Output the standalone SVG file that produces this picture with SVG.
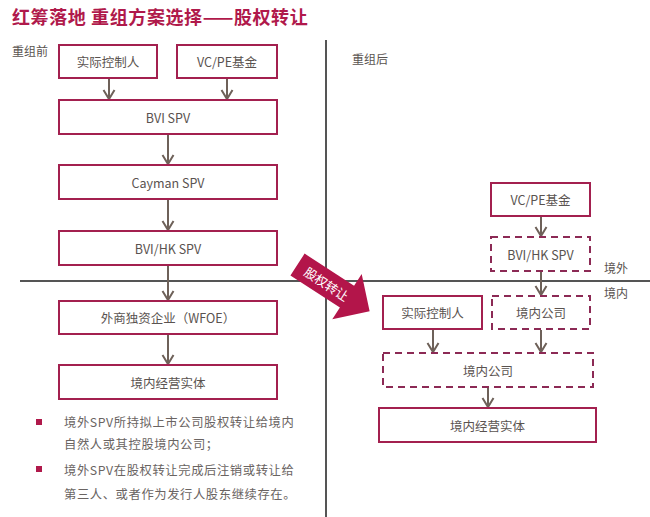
<svg xmlns="http://www.w3.org/2000/svg" width="650" height="517" viewBox="0 0 650 517">
<style>
  text { font-family: "Noto Sans CJK SC", "Noto Sans", "Liberation Sans", sans-serif; }
  .box { fill: #ffffff; stroke: #a3204f; stroke-width: 2; }
  .dbox { fill: #ffffff; stroke: #8c2a55; stroke-width: 2; stroke-dasharray: 7 5; }
  .lbl { font-size: 12.5px; fill: #5a5350; text-anchor: middle; dominant-baseline: central; }
  .side { font-size: 12px; fill: #5a5350; }
  .note { font-size: 12.3px; fill: #6a6462; letter-spacing: 0.6px; }
  .conn { stroke: #6e6159; stroke-width: 2; fill: none; marker-end: url(#v); }
  .axis { stroke: #555555; stroke-width: 2; }
</style>
<defs>
  <marker id="v" markerUnits="userSpaceOnUse" markerWidth="14" markerHeight="14" viewBox="0 0 14 14" refX="12" refY="7" orient="auto">
    <path d="M3,1.5 L12,7 L3,12.5" fill="none" stroke="#6e6159" stroke-width="2"/>
  </marker>
</defs>
<rect width="650" height="517" fill="#ffffff"/>

<text x="12" y="24" font-size="18" font-weight="bold" fill="#b0194b" letter-spacing="0.6">红筹落地 重组方案选择——股权转让</text>

<g id="axes">
  <line class="axis" x1="326" y1="40" x2="326" y2="517"/>
  <line class="axis" x1="20" y1="281" x2="650" y2="281"/>
</g>

<text class="side" x="12" y="56">重组前</text>
<text class="side" x="352" y="64">重组后</text>
<text class="side" x="604" y="273">境外</text>
<text class="side" x="604" y="298">境内</text>

<g id="connectors">
  <line class="conn" x1="109" y1="79" x2="109" y2="99"/>
  <line class="conn" x1="227" y1="79" x2="227" y2="99"/>
  <line class="conn" x1="168" y1="135" x2="168" y2="164"/>
  <line class="conn" x1="168" y1="200" x2="168" y2="230"/>
  <line class="conn" x1="168" y1="266" x2="168" y2="300"/>
  <line class="conn" x1="168" y1="335" x2="168" y2="364"/>
  <line class="conn" x1="541" y1="217" x2="541" y2="236"/>
  <line class="conn" x1="541" y1="272" x2="541" y2="295"/>
  <line class="conn" x1="433" y1="330" x2="433" y2="352"/>
  <line class="conn" x1="541" y1="330" x2="541" y2="352"/>
  <line class="conn" x1="488" y1="388" x2="488" y2="407"/>
</g>

<g id="l-actual"><rect class="box" x="59" y="45" width="98" height="33"/><text class="lbl" x="108" y="61.5">实际控制人</text></g>
<g id="l-vcpe"><rect class="box" x="177" y="45" width="100" height="33"/><text class="lbl" x="227" y="61.5">VC/PE基金</text></g>
<g id="l-bvi"><rect class="box" x="59" y="100" width="218" height="34"/><text class="lbl" x="168" y="117">BVI SPV</text></g>
<g id="l-cayman"><rect class="box" x="59" y="165" width="218" height="34"/><text class="lbl" x="168" y="182">Cayman SPV</text></g>
<g id="l-bvihk"><rect class="box" x="59" y="231" width="218" height="34"/><text class="lbl" x="168" y="248">BVI/HK SPV</text></g>
<g id="l-wfoe"><rect class="box" x="59" y="301" width="218" height="33"/><text class="lbl" x="168" y="317.5">外商独资企业（WFOE）</text></g>
<g id="l-entity"><rect class="box" x="59" y="365" width="218" height="34"/><text class="lbl" x="168" y="382">境内经营实体</text></g>

<g id="r-vcpe"><rect class="box" x="491" y="183" width="99" height="33"/><text class="lbl" x="540.5" y="199.5">VC/PE基金</text></g>
<g id="r-bvihk"><rect class="dbox" x="491" y="237" width="99" height="34"/><text class="lbl" x="540.5" y="254">BVI/HK SPV</text></g>
<g id="r-actual"><rect class="box" x="383" y="296" width="99" height="33"/><text class="lbl" x="432.5" y="312.5">实际控制人</text></g>
<g id="r-domestic1"><rect class="dbox" x="492" y="296" width="98" height="33"/><text class="lbl" x="541" y="312.5">境内公司</text></g>
<g id="r-domestic2"><rect class="dbox" x="383" y="353" width="210" height="34"/><text class="lbl" x="488" y="370">境内公司</text></g>
<g id="r-entity"><rect class="box" x="379" y="408" width="217" height="34"/><text class="lbl" x="487.5" y="425">境内经营实体</text></g>

<g id="transfer-arrow" transform="translate(297.5,264.5) rotate(33)">
  <polygon points="0,-13 59,-13 59,-27 86,0 59,27 59,13 0,13" fill="#b3154a"/>
  <text x="35" y="0" font-size="12.5" fill="#ffffff" text-anchor="middle" dominant-baseline="central">股权转让</text>
</g>

<g id="notes">
  <rect x="36" y="419" width="6" height="6" fill="#b0194b"/>
  <rect x="36" y="466" width="6" height="6" fill="#b0194b"/>
  <text class="note" x="64" y="427">境外SPV所持拟上市公司股权转让给境内</text>
  <text class="note" x="64" y="449">自然人或其控股境内公司；</text>
  <text class="note" x="64" y="475">境外SPV在股权转让完成后注销或转让给</text>
  <text class="note" x="64" y="499">第三人、或者作为发行人股东继续存在。</text>
</g>
</svg>
